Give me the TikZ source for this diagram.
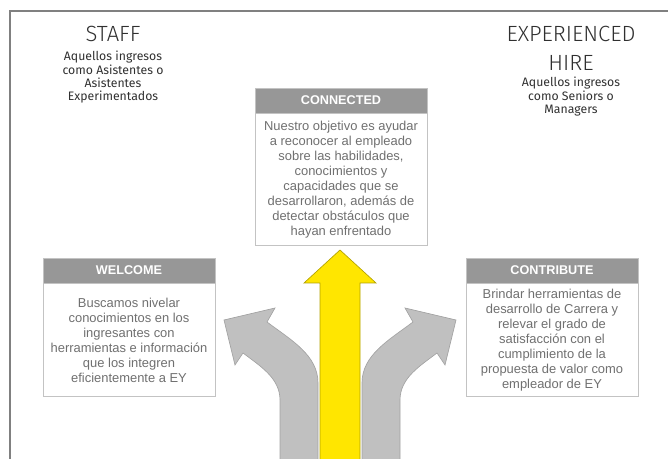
\documentclass[tikz,border=0pt]{standalone}
\usepackage{fontspec}
\usepackage{tikz}
\usepackage{xcolor}
\usetikzlibrary{positioning,arrows.meta}
\setmainfont{Liberation Sans}
\newfontfamily\titlefont{Fira Sans Light}
\newfontfamily\subfont{Fira Sans}

\definecolor{headgray}{HTML}{979797}
\definecolor{linegray}{HTML}{C3C3C3}
\definecolor{textgray}{HTML}{707070}
\definecolor{darkgray}{HTML}{303030}
\definecolor{arrowgray}{HTML}{C0C0C0}
\definecolor{eyyellow}{HTML}{FFE600}

\begin{document}
\begin{tikzpicture}[x=0.75pt,y=-0.75pt]
  \tikzstyle{title}=[anchor=north,inner sep=0pt,align=center,text=darkgray,font=\titlefont\fontsize{16.5pt}{21.75pt}\selectfont]
  \tikzstyle{subtitle}=[anchor=north,inner sep=0pt,align=center,text=darkgray,font=\subfont\fontsize{9.2pt}{10pt}\selectfont]
  \tikzstyle{boxhead}=[draw=linegray,fill=headgray,text=white,minimum width=129pt,minimum height=18.75pt,inner sep=0pt,font=\bfseries\fontsize{9.5pt}{11pt}\selectfont]
  \tikzstyle{boxbody}=[draw=linegray,fill=white,text=textgray,minimum width=129pt,inner sep=0pt,align=center,font=\fontsize{9.7pt}{11.25pt}\selectfont]
  \tikzstyle{bent}=[fill=arrowgray,draw=arrowgray!85!black,line width=0.5pt]

  \useasboundingbox (0,0) rectangle (668,459);
  \clip (0,0) rectangle (668,459);

  \draw[gray,line width=1.1pt] (10,462) -- (10,11) -- (668,11);

  \node[title] (staff) at (113,26) {STAFF};
  \node[subtitle] (staffsub) at (113,51) {Aquellos ingresos\\como Asistentes o\\Asistentes\\Experimentados};

  \node[title] (hire) at (571,26) {EXPERIENCED\\HIRE};
  \node[subtitle] (hiresub) at (571,77) {Aquellos ingresos\\como Seniors o\\Managers};

  \node[boxhead] (connhead) at (341,100.5) {CONNECTED};
  \node[boxbody,minimum height=99pt,below=0pt of connhead] (connbody) {Nuestro objetivo es ayudar\\a reconocer al empleado\\sobre las habilidades,\\conocimientos y\\capacidades que se\\desarrollaron, además de\\detectar obstáculos que\\hayan enfrentado};

  \node[boxhead] (welchead) at (129,270.5) {WELCOME};
  \node[boxbody,minimum height=84.75pt,below=0pt of welchead] (welcbody) {Buscamos nivelar\\conocimientos en los\\ingresantes con\\herramientas e información\\que los integren\\eficientemente a EY};

  \node[boxhead] (conthead) at (552,270.5) {CONTRIBUTE};
  \node[boxbody,minimum height=84.75pt,below=0pt of conthead] (contbody) {Brindar herramientas de\\desarrollo de Carrera y\\relevar el grado de\\satisfacción con el\\cumplimiento de la\\propuesta de valor como\\empleador de EY};

  \foreach \side in {1,-1} {
    \begin{scope}[xshift={(1-\side)*255pt},xscale=\side]
      \draw[bent] (280,465) -- (280,400) .. controls (280,378) and (260,366) .. (243,353)
        -- (235,365) -- (224,320) -- (275,308) -- (267,322)
        .. controls (291,340) and (318,355) .. (318,383) -- (318,465) -- cycle;
    \end{scope}
  }

  \draw[fill=eyyellow,draw=eyyellow!70!black,line width=0.5pt] (320,465) -- (320,283) -- (304,283) -- (340,250)
    -- (376,283) -- (360,283) -- (360,465) -- cycle;

\end{tikzpicture}
\end{document}
